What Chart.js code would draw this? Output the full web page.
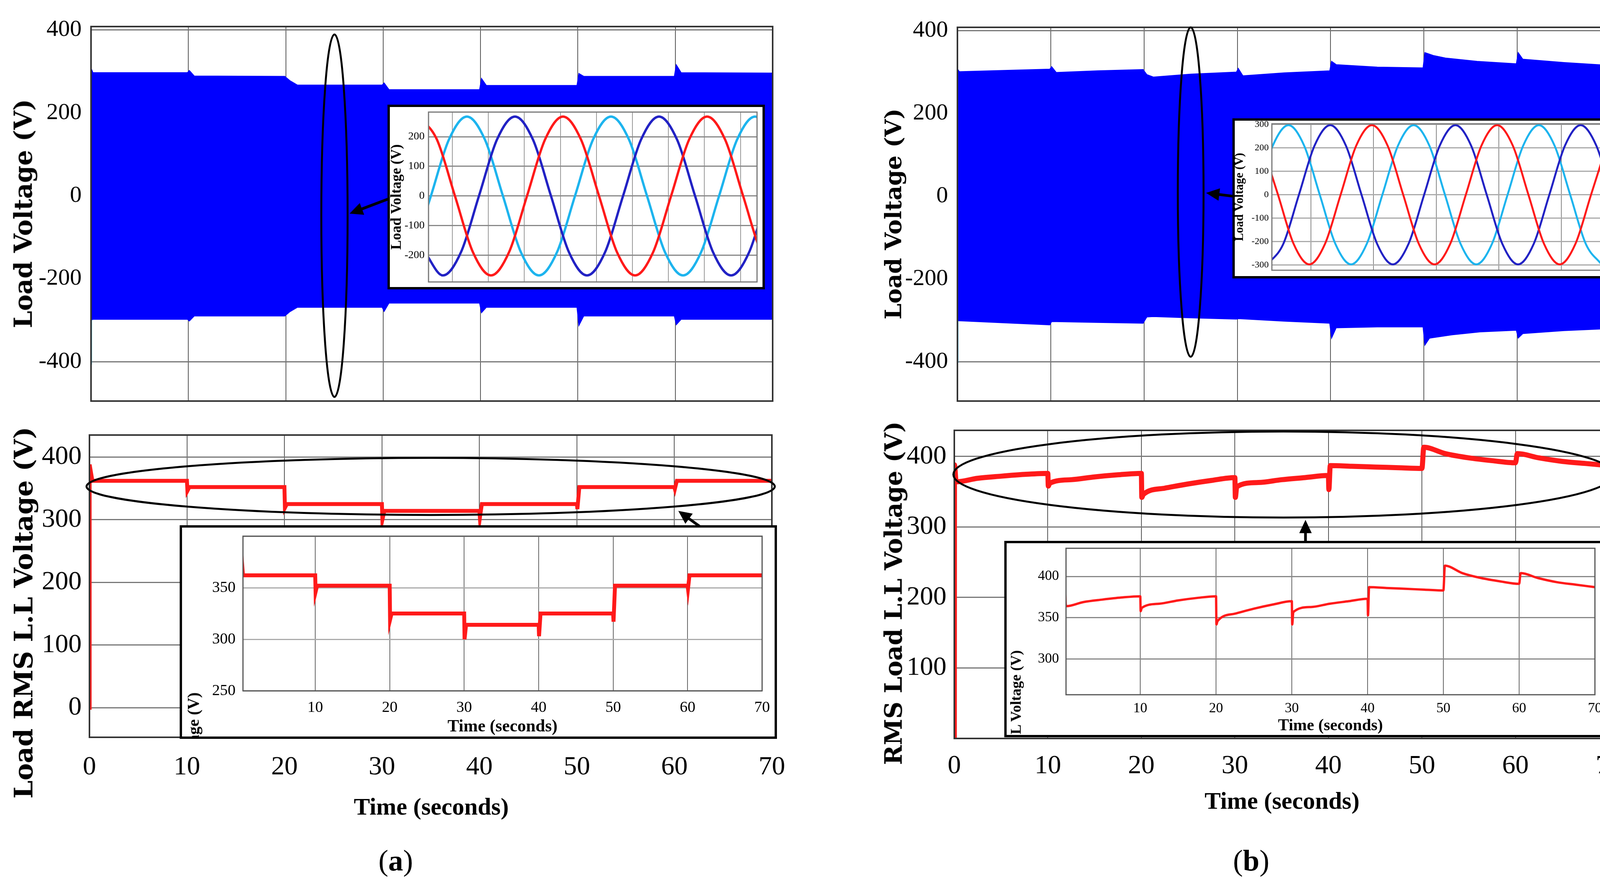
<!DOCTYPE html>
<html>
<head>
<meta charset="utf-8">
<script src="https://cdn.jsdelivr.net/npm/chart.js@4.4.1/dist/chart.umd.min.js"></script>
<style>
  body { margin: 0; background: #fff; width: 4183px; height: 2256px; position: relative; overflow: hidden; }
  canvas { position: absolute; display: block; }
  .inset { position: absolute; background: #fff; border: 6px solid #000; box-sizing: border-box; overflow: hidden; }
  .inset canvas { left: 0; top: -60px; }
  .ytitle { position: absolute; transform-origin: 0 0; transform: rotate(-90deg) translate(-50%, -50%);
            white-space: nowrap; line-height: 1; font-family: "DejaVu Serif"; font-weight: bold; color: #000; }
  .ycut { position: absolute; transform-origin: 0 0; transform: rotate(-90deg) translate(-100%, -50%);
          white-space: nowrap; line-height: 1; font-family: "Liberation Serif"; font-weight: bold; color: #000; }
  .xtitle { position: absolute; transform: translate(-50%, -50%); white-space: nowrap; line-height: 1;
            font-family: "Liberation Serif"; color: #000; }
</style>
</head>
<body>

<canvas id="cTopA" style="left:0;top:0" width="2000" height="1097"></canvas>
<canvas id="cTopB" style="left:2100px;top:0" width="2083" height="1097"></canvas>
<canvas id="cBotA" style="left:0;top:1000px" width="2100" height="1020"></canvas>
<canvas id="cBotB" style="left:2100px;top:1000px" width="2183" height="1020"></canvas>

<div class="inset" style="left:992px;top:268px;width:966px;height:473px"><canvas id="iTopA" width="1014" height="581"></canvas></div>
<div class="inset" style="left:3155px;top:303px;width:968px;height:410px"><canvas id="iTopB" width="1016" height="518"></canvas></div>
<div class="inset" style="left:460px;top:1345px;width:1529px;height:547px">
  <canvas id="iBotA" width="1577" height="595"></canvas>
  <div class="ycut" style="left:29px;top:422px;font-size:42px">Load RMS L.L Voltage (V)</div>
</div>
<div class="inset" style="left:2571px;top:1385px;width:1548px;height:503px">
  <canvas id="iBotB" width="1596" height="551"></canvas>
  <div class="ycut" style="left:23px;top:274px;font-size:38px">RMS Load L.L Voltage (V)</div>
</div>

<div class="ytitle" style="left:60px;top:547px;font-size:63px">Load Voltage (V)</div>
<div class="ytitle" style="left:2287px;top:548px;font-size:58px">Load Voltage (V)</div>
<div class="ytitle" style="left:60px;top:1569px;font-size:66px">Load RMS L.L Voltage (V)</div>
<div class="ytitle" style="left:2287px;top:1519px;font-size:61px">RMS Load L.L Voltage (V)</div>

<div class="xtitle" style="left:1104px;top:2065px;font-size:62px;font-weight:bold">Time (seconds)</div>
<div class="xtitle" style="left:3282px;top:2050px;font-size:62px;font-weight:bold">Time (seconds)</div>
<div class="xtitle" style="left:1013px;top:2203px;font-size:76px">(<b>a</b>)</div>
<div class="xtitle" style="left:3203px;top:2203px;font-size:76px">(<b>b</b>)</div>

<script>
// ---- (a) load voltage envelope, 0-70 s ----
const upA_t = [0, 0.2, 9.9, 10.1, 10.6, 19.9, 20.4, 21.2, 29.9, 30.1, 30.6, 39.9, 40.1, 40.6, 49.9, 50.1, 50.6, 59.9, 60.1, 60.6, 70];
const upA_v = [308, 297, 297, 302, 289, 288, 278, 267, 267, 272, 256, 256, 283, 266, 266, 295, 288, 288, 316, 297, 296];
const loA_t = upA_t;
const loA_v = [-300, -298, -298, -302, -290, -290, -280, -269, -269, -279, -259, -259, -282, -269, -269, -313, -290, -290, -311, -298, -298];
const spikeA_t = [0, 0.02];
const spikeA_v = [-298, -407];

// ---- (b) load voltage envelope ----
const upB_t = [0, 0.2, 5, 9.9, 10.1, 10.6, 15, 19.9, 20.3, 21, 25, 29.9, 30.1, 30.6, 35, 39.9, 40.1, 40.6, 45, 49.9, 50.1, 51, 52.3, 55.7, 59.9, 60.1, 60.6, 65, 70];
const upB_v = [308, 301, 304, 307, 313, 299, 303, 306, 294, 288, 295, 300, 309, 291, 298, 303, 326, 318, 312, 310, 347, 340, 334, 326, 320, 347, 331, 323, 316];
const loB_t = [0, 0.2, 5, 9.9, 10.1, 15, 19.9, 20.3, 21, 25, 29.9, 30.1, 35, 39.9, 40.1, 40.6, 45, 49.9, 50.1, 50.6, 53, 56, 59.9, 60.1, 60.6, 65, 70];
const loB_v = [-301, -301, -306, -311, -303, -305, -307, -292, -291, -294, -297, -296, -302, -307, -343, -318, -316, -316, -360, -343, -335, -328, -324, -343, -332, -325, -320];
const spikeB_t = [0, 0.02];
const spikeB_v = [-301, -403];

// ---- zoomed phase voltages (ms) ----
const insA_cyanT = [-5.47, -2.97, -0.47, 2.03, 4.53, 7.03, 9.53, 12.03, 14.53, 17.03, 19.53, 22.03, 24.53, 27.03, 29.53, 32.03, 34.53, 37.03, 39.53, 42.03, 44.53];
const insA_cyanV = [-190, 0, 190, 268, 190, 0, -190, -268, -190, 0, 190, 268, 190, 0, -190, -268, -190, 0, 190, 268, 190];
const insA_blueT = [-3.8, -1.3, 1.2, 3.7, 6.2, 8.7, 11.2, 13.7, 16.2, 18.7, 21.2, 23.7, 26.2, 28.7, 31.2, 33.7, 36.2, 38.7, 41.2, 43.7];
const insA_blueV = [-190, -268, -190, 0, 190, 268, 190, 0, -190, -268, -190, 0, 190, 268, 190, 0, -190, -268, -190, 0];
const insA_redT = [-4.63, -2.13, 0.37, 2.87, 5.37, 7.87, 10.37, 12.87, 15.37, 17.87, 20.37, 22.87, 25.37, 27.87, 30.37, 32.87, 35.37, 37.87, 40.37, 42.87, 45.37];
const insA_redV = [268, 190, 0, -190, -268, -190, 0, 190, 268, 190, 0, -190, -268, -190, 0, 190, 268, 190, 0, -190, -268];

const insB_cyanT = [-8.6, -6.1, -3.6, -1.1, 1.4, 3.9, 6.4, 8.9, 11.4, 13.9, 16.4, 18.9, 21.4, 23.9, 26.4, 28.9, 31.4, 33.9, 36.4, 38.9, 41.4, 43.9, 46.4];
const insB_cyanV = [0, 210, 297, 210, 0, -210, -297, -210, 0, 210, 297, 210, 0, -210, -297, -210, 0, 210, 297, 210, 0, -210, -297];
const insB_blueT = [-6.93, -4.43, -1.93, 0.57, 3.07, 5.57, 8.07, 10.57, 13.07, 15.57, 18.07, 20.57, 23.07, 25.57, 28.07, 30.57, 33.07, 35.57, 38.07, 40.57, 43.07, 45.57, 48.07];
const insB_blueV = [-297, -210, 0, 210, 297, 210, 0, -210, -297, -210, 0, 210, 297, 210, 0, -210, -297, -210, 0, 210, 297, 210, 0];
const insB_redT = [-7.77, -5.27, -2.77, -0.27, 2.23, 4.73, 7.23, 9.73, 12.23, 14.73, 17.23, 19.73, 22.23, 24.73, 27.23, 29.73, 32.23, 34.73, 37.23, 39.73, 42.23, 44.73, 47.23];
const insB_redV = [210, 0, -210, -297, -210, 0, 210, 297, 210, 0, -210, -297, -210, 0, 210, 297, 210, 0, -210, -297, -210, 0, 210];

// ---- RMS line-line voltage ----
const rmsA_t = [0, 0.02, 0.3, 10, 10.05, 10.25, 20, 20.05, 20.25, 30, 30.05, 30.25, 40, 40.05, 40.25, 50, 50.05, 50.25, 60, 60.05, 60.25, 70];
const rmsA_v = [0, 388, 362, 362, 346, 352, 352, 319, 325, 325, 300, 314, 314, 303, 325, 325, 317, 352, 352, 349, 362, 362];
const rmsB_t = [0, 0.02, 0.2, 2.5, 5, 7.5, 10, 10.05, 10.2, 12.5, 15, 17.5, 20, 20.05, 20.2, 22.5, 25, 27.5, 30, 30.05, 30.2, 32.5, 35, 37.5, 40, 40.05, 40.2, 42.5, 45, 47.5, 50, 50.2, 52.5, 55, 57.5, 60, 60.2, 62.5, 65, 67.5, 70];
const rmsB_v = [0, 388, 364, 369, 372, 374.5, 376, 358, 362, 367, 371, 374, 376, 342, 346, 355, 361, 366, 370, 342, 357, 363, 367, 370, 373, 353, 387, 386, 385, 384, 383, 413, 404, 398, 394, 391, 404, 398, 393, 390, 387];

const RED = '#ff1a1a', BLUE = '#0000ff', DBLUE = '#2222c4', CYAN = '#1db4ee';

Chart.defaults.font.family = 'Liberation Serif';

const pts = (ts, vs) => ts.map((t, i) => ({x: t, y: vs[i]}));

function line(ts, vs, color, width, smooth, fill) {
  return {
    data: pts(ts, vs), borderColor: color, backgroundColor: color, borderWidth: width,
    pointRadius: 0, fill: fill || false, tension: 0,
    cubicInterpolationMode: smooth ? 'monotone' : 'default'
  };
}

// box round the plot area
const framePlugin = {
  id: 'frame',
  afterDraw(chart, args, opts) {
    const {ctx, chartArea: a} = chart;
    ctx.save();
    ctx.strokeStyle = opts.color || '#333';
    ctx.lineWidth = opts.width || 4;
    ctx.strokeRect(a.left, a.top, a.right - a.left, a.bottom - a.top);
    ctx.restore();
  }
};

// ellipses and arrows, given in data units
const marksPlugin = {
  id: 'marks',
  afterDraw(chart, args, opts) {
    const sx = chart.scales.x, sy = chart.scales.y, ctx = chart.ctx;
    ctx.save();
    ctx.strokeStyle = '#000';
    ctx.fillStyle = '#000';
    (opts.ellipses || []).forEach(e => {
      const cx = sx.getPixelForValue(e.x), cy = sy.getPixelForValue(e.y);
      const rx = Math.abs(sx.getPixelForValue(e.x + e.rx) - cx);
      const ry = Math.abs(sy.getPixelForValue(e.y + e.ry) - cy);
      ctx.lineWidth = 5;
      ctx.beginPath();
      ctx.ellipse(cx, cy, rx, ry, 0, 0, Math.PI * 2);
      ctx.stroke();
    });
    (opts.arrows || []).forEach(a => {
      const x0 = sx.getPixelForValue(a.x0), y0 = sy.getPixelForValue(a.y0);
      const x1 = sx.getPixelForValue(a.x1), y1 = sy.getPixelForValue(a.y1);
      const ang = Math.atan2(y1 - y0, x1 - x0), c = Math.cos(ang), s = Math.sin(ang);
      const head = 34, half = 16;
      ctx.lineWidth = 7;
      ctx.beginPath();
      ctx.moveTo(x0, y0);
      ctx.lineTo(x1 - head * 0.8 * c, y1 - head * 0.8 * s);
      ctx.stroke();
      ctx.beginPath();
      ctx.moveTo(x1, y1);
      ctx.lineTo(x1 - head * c + half * s, y1 - head * s - half * c);
      ctx.lineTo(x1 - head * c - half * s, y1 - head * s + half * c);
      ctx.closePath();
      ctx.fill();
    });
    ctx.restore();
  }
};

function build(id, datasets, o) {
  return new Chart(document.getElementById(id), {
    type: 'line',
    data: {datasets},
    plugins: [framePlugin, marksPlugin],
    options: {
      responsive: false, animation: false, devicePixelRatio: 1, events: [],
      layout: {padding: o.pad},
      plugins: {
        legend: {display: false}, tooltip: {enabled: false},
        frame: o.frame || {}, marks: o.marks || {}
      },
      scales: {
        x: {
          type: 'linear', min: o.xMin, max: o.xMax,
          afterFit: s => { s.height = o.xH; },
          border: {display: false},
          grid: {color: o.vGrid || '#555', lineWidth: o.vGridW || 2, drawTicks: false},
          ticks: {display: !!o.xFont, stepSize: o.xStep, includeBounds: false, autoSkip: false,
                  maxRotation: 0, padding: o.xPad || 0, color: '#000', font: o.xFont, callback: v => v},
          title: o.xTitle || {display: false}
        },
        y: {
          type: 'linear', min: o.yMin, max: o.yMax,
          afterFit: s => { s.width = o.yW; },
          border: {display: false},
          grid: {color: o.hGrid || '#777', lineWidth: o.hGridW || 3, drawTicks: false},
          ticks: {stepSize: o.yStep, includeBounds: false, autoSkip: false, padding: o.yPad,
                  color: '#000', font: o.yFont, callback: o.yCb || (v => v)},
          title: o.yTitle || {display: false}
        }
      }
    }
  });
}

// ---------- main panels ----------
build('cTopA', [
  line(spikeA_t, spikeA_v, CYAN, 4),
  line(upA_t, upA_v, BLUE, 2, false, '+1'),
  line(loA_t, loA_v, BLUE, 2)
], {
  pad: {left: 0, top: 68, right: 22, bottom: 0},
  xMin: 0, xMax: 70, xStep: 10, xH: 70,
  yMin: -495, yMax: 408, yStep: 200, yW: 233, yPad: 24, yFont: {size: 60},
  frame: {color: '#333', width: 4},
  marks: {ellipses: [{x: 25, y: -48, rx: 1.35, ry: 437}], arrows: [{x0: 30.5, y0: -8, x1: 26.55, y1: -43}]}
});

build('cTopB', [
  line(spikeB_t, spikeB_v, CYAN, 4),
  line(upB_t, upB_v, BLUE, 2, false, '+1'),
  line(loB_t, loB_v, BLUE, 2)
], {
  pad: {left: 0, top: 70, right: 60, bottom: 0},
  xMin: 0, xMax: 70, xStep: 10, xH: 70,
  yMin: -495, yMax: 408, yStep: 200, yW: 351, yPad: 24, yFont: {size: 60},
  frame: {color: '#333', width: 4},
  marks: {ellipses: [{x: 25, y: 10, rx: 1.38, ry: 398}], arrows: [{x0: 29.5, y0: 0, x1: 26.65, y1: 8}]}
});

build('cBotA', [line(rmsA_t, rmsA_v, RED, 10)], {
  pad: {left: 0, top: 114, right: 124, bottom: 0},
  xMin: 0, xMax: 70, xStep: 10, xH: 132, xPad: 36, xFont: {size: 68},
  yMin: -47, yMax: 435, yStep: 100, yW: 229, yPad: 20, yFont: {size: 68},
  frame: {color: '#333', width: 4},
  marks: {ellipses: [{x: 35, y: 353, rx: 35.3, ry: 45.5}], arrows: [{x0: 62.8, y0: 287, x1: 60.4, y1: 314}]}
});

build('cBotB', [line(rmsB_t, rmsB_v, RED, 13, true)], {
  pad: {left: 0, top: 102, right: 164, bottom: 0},
  xMin: 0, xMax: 70, xStep: 10, xH: 129, xPad: 30, xFont: {size: 68},
  yMin: 0, yMax: 437, yStep: 100, yW: 343, yPad: 20, yFont: {size: 68},
  yCb: v => (v === 0 ? '' : v),
  frame: {color: '#333', width: 4},
  marks: {ellipses: [{x: 35.2, y: 374.4, rx: 35.3, ry: 61}], arrows: [{x0: 37.55, y0: 279, x1: 37.55, y1: 310}]}
});

// ---------- insets (canvas sits 60px above the box and runs 60px past it; the box clips) ----------
build('iTopA', [
  line(insA_redT, insA_redV, RED, 6, true),
  line(insA_blueT, insA_blueV, DBLUE, 6, true),
  line(insA_cyanT, insA_cyanV, CYAN, 6, true)
], {
  pad: {left: 0, top: 73, right: 74, bottom: 0},
  xMin: -3.3, xMax: 42.3, xStep: 5, xH: 73, vGrid: '#999', vGridW: 2,
  yMin: -290, yMax: 283, yStep: 100, yW: 99, yPad: 10, yFont: {size: 28},
  hGrid: '#888', hGridW: 3,
  yTitle: {display: true, text: 'Load Voltage (V)', color: '#000', padding: 0,
           font: {size: 37, weight: 'bold', lineHeight: 1}},
  frame: {color: '#777', width: 3}
});

build('iTopB', [
  line(insB_redT, insB_redV, RED, 5, true),
  line(insB_blueT, insB_blueV, DBLUE, 5, true),
  line(insB_cyanT, insB_cyanV, CYAN, 5, true)
], {
  pad: {left: 0, top: 68, right: 78, bottom: 0},
  xMin: -6.25, xMax: 46.35, xStep: 10, xH: 75, vGrid: '#888', vGridW: 2,
  yMin: -322, yMax: 303, yStep: 100, yW: 95, yPad: 8, yFont: {size: 24},
  hGrid: '#aaa', hGridW: 3,
  yTitle: {display: true, text: 'Load Voltage (V)', color: '#000', padding: {top: -3, bottom: 0},
           font: {size: 31, weight: 'bold', lineHeight: 1}},
  frame: {color: '#777', width: 3}
});

build('iBotA', [line(rmsA_t, rmsA_v, RED, 10)], {
  pad: {left: 0, top: 82, right: 92, bottom: 0},
  xMin: 0.3, xMax: 70, xStep: 10, xH: 117, xPad: 19, xFont: {size: 40}, vGrid: '#666', vGridW: 2,
  xTitle: {display: true, text: 'Time (seconds)', color: '#000', padding: {top: 0, bottom: 2},
           font: {size: 44, weight: 'bold', lineHeight: 1}},
  yMin: 250, yMax: 400, yStep: 50, yW: 156, yPad: 19, yFont: {size: 40},
  yCb: v => (v >= 400 ? '' : v), hGrid: '#aaa', hGridW: 3,
  frame: {color: '#555', width: 3}
});

build('iBotB', [line(rmsB_t, rmsB_v, RED, 6, true)], {
  pad: {left: 0, top: 73, right: 90, bottom: 0},
  xMin: 0.2, xMax: 70, xStep: 10, xH: 103, xPad: 14, xFont: {size: 36}, vGrid: '#666', vGridW: 2,
  xTitle: {display: true, text: 'Time (seconds)', color: '#000', padding: {top: 0, bottom: 2},
           font: {size: 42, weight: 'bold', lineHeight: 1}},
  yMin: 257, yMax: 434, yStep: 50, yW: 152, yPad: 18, yFont: {size: 36},
  hGrid: '#888', hGridW: 3,
  frame: {color: '#555', width: 3}
});
</script>
</body>
</html>
